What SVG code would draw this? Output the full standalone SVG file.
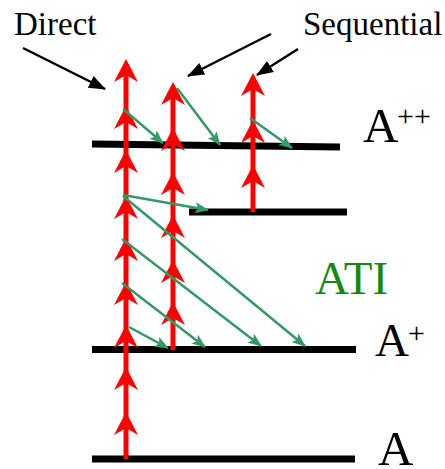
<svg xmlns="http://www.w3.org/2000/svg" xmlns:xlink="http://www.w3.org/1999/xlink" width="445" height="469" viewBox="0 0 445 469">
<style>
  .lvl { stroke: #000; stroke-width: 7; fill: none; }
  .red { stroke: #ff0000; stroke-width: 5; fill: none; }
  .rh { fill: #ff0000; }
  .grn { stroke: #339966; stroke-width: 2.5; fill: none; marker-end: url(#gh); }
  .blk { stroke: #000; stroke-width: 2.5; fill: none; marker-end: url(#bh); }
  .t { font-family: "Liberation Serif", "Times New Roman", serif; fill: #000; }
  .ati { font-family: "Liberation Serif", "Times New Roman", serif; fill: #118a11; }
</style>
<defs>
  <path id="rh" class="rh" d="M0,0 L12,23 L0,16 L-12,23 Z"/>
  <marker id="gh" markerUnits="userSpaceOnUse" markerWidth="16" markerHeight="12" refX="13" refY="5.5" orient="auto" viewBox="0 0 16 12">
    <path d="M0,0 L14,5.5 L0,11 L3,5.5 Z" fill="#339966"/>
  </marker>
  <marker id="bh" markerUnits="userSpaceOnUse" markerWidth="18" markerHeight="14" refX="16" refY="6.5" orient="auto" viewBox="0 0 18 14">
    <path d="M0,0 L17,6.5 L0,13 Z" fill="#000"/>
  </marker>
</defs>

<g id="level-A">
  <line class="lvl" x1="92" y1="459" x2="355" y2="459"/>
  <text class="t" x="378" y="465" font-size="49">A</text>
</g>
<g id="level-Aplus">
  <line class="lvl" x1="92" y1="349.5" x2="356" y2="349.5"/>
  <text class="t" x="375" y="356" font-size="47">A</text>
  <text class="t" x="408" y="343" font-size="30">+</text>
</g>
<g id="level-intermediate">
  <line class="lvl" x1="189" y1="212" x2="347" y2="212"/>
</g>
<g id="level-Aplusplus">
  <line class="lvl" x1="92" y1="144" x2="340" y2="147"/>
  <text class="t" x="363" y="142" font-size="49">A</text>
  <text class="t" x="397" y="126" font-size="30">++</text>
</g>

<g id="label-direct">
  <text class="t" x="14" y="35" font-size="33">Direct</text>
</g>
<g id="label-sequential">
  <text class="t" x="303" y="35" font-size="33">Sequential</text>
</g>
<g id="label-ati">
  <text class="ati" x="315" y="294" font-size="47">ATI</text>
</g>

<g id="connectors">
  <!-- red photon ladders -->
  <line class="red" x1="126" y1="459" x2="126" y2="64"/>
  <use xlink:href="#rh" href="#rh" transform="translate(126,59)"/>
  <use xlink:href="#rh" href="#rh" transform="translate(126,106)"/>
  <use xlink:href="#rh" href="#rh" transform="translate(126,150)"/>
  <use xlink:href="#rh" href="#rh" transform="translate(126,196)"/>
  <use xlink:href="#rh" href="#rh" transform="translate(126,238)"/>
  <use xlink:href="#rh" href="#rh" transform="translate(126,282)"/>
  <use xlink:href="#rh" href="#rh" transform="translate(126,325)"/>
  <use xlink:href="#rh" href="#rh" transform="translate(126,367)"/>
  <use xlink:href="#rh" href="#rh" transform="translate(126,412)"/>

  <line class="red" x1="173" y1="350" x2="173" y2="87"/>
  <use xlink:href="#rh" href="#rh" transform="translate(173,82)"/>
  <use xlink:href="#rh" href="#rh" transform="translate(173,128)"/>
  <use xlink:href="#rh" href="#rh" transform="translate(173,172)"/>
  <use xlink:href="#rh" href="#rh" transform="translate(173,215)"/>
  <use xlink:href="#rh" href="#rh" transform="translate(173,260)"/>
  <use xlink:href="#rh" href="#rh" transform="translate(173,302)"/>

  <line class="red" x1="253" y1="212" x2="253" y2="78"/>
  <use xlink:href="#rh" href="#rh" transform="translate(253,73)"/>
  <use xlink:href="#rh" href="#rh" transform="translate(253,120)"/>
  <use xlink:href="#rh" href="#rh" transform="translate(253,165)"/>

  <!-- green electron arrows -->
  <line class="grn" x1="123" y1="109" x2="163" y2="143"/>
  <line class="grn" x1="177" y1="88" x2="220" y2="145"/>
  <line class="grn" x1="250" y1="118" x2="292" y2="148"/>
  <line class="grn" x1="123" y1="195" x2="208" y2="210"/>
  <line class="grn" x1="123" y1="196" x2="305" y2="346"/>
  <line class="grn" x1="122" y1="239" x2="261" y2="346"/>
  <line class="grn" x1="122" y1="283" x2="205" y2="347"/>
  <line class="grn" x1="129" y1="327" x2="168" y2="348"/>

  <!-- black pointer arrows -->
  <line class="blk" x1="23" y1="48" x2="105" y2="89"/>
  <line class="blk" x1="271" y1="34" x2="188" y2="76"/>
  <line class="blk" x1="298" y1="49" x2="257" y2="75"/>
</g>
</svg>
